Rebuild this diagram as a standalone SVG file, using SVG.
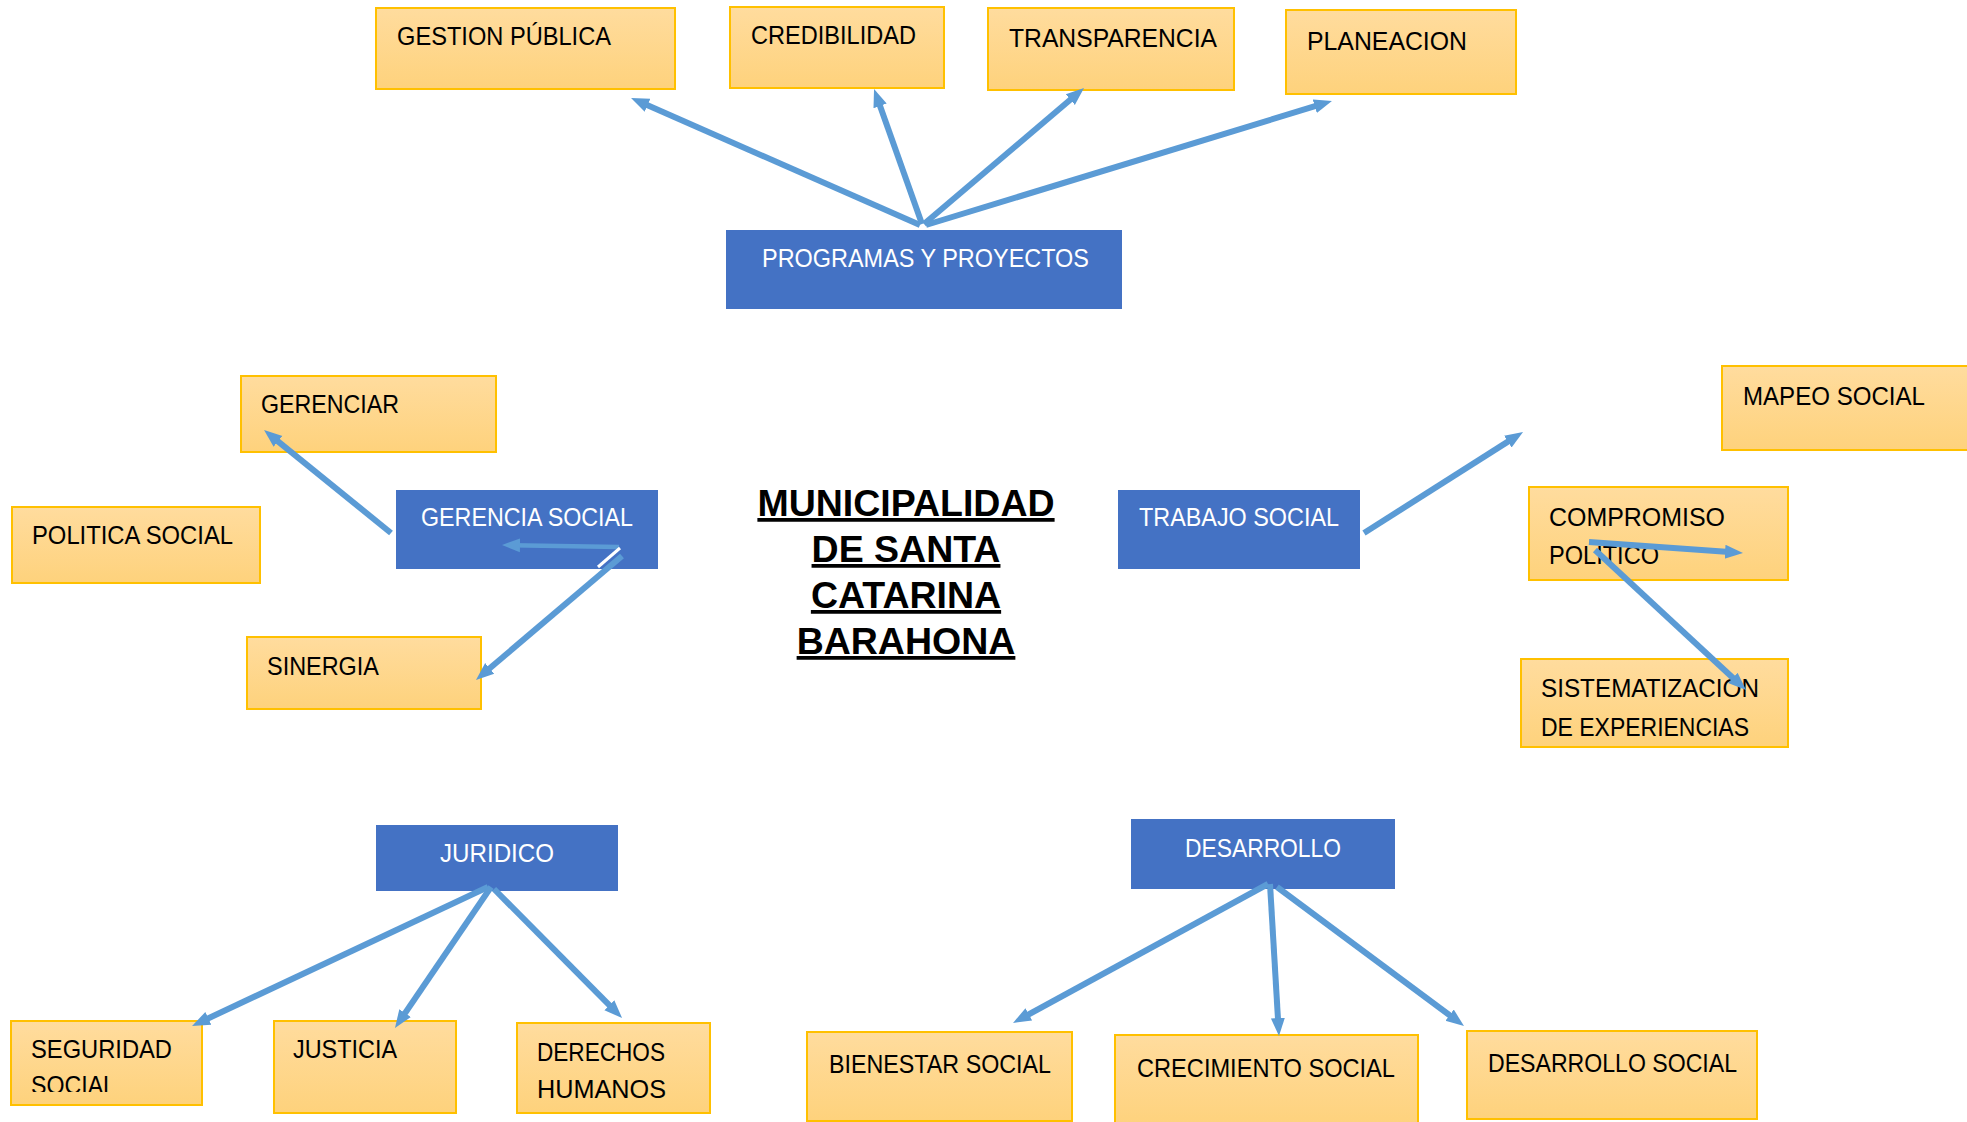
<svg xmlns="http://www.w3.org/2000/svg" width="1967" height="1122" viewBox="0 0 1967 1122">
<defs>
<linearGradient id="og" x1="0" y1="0" x2="0" y2="1">
<stop offset="0" stop-color="#FFDC9E"/>
<stop offset="1" stop-color="#FED27C"/>
</linearGradient>
<marker id="ah" markerUnits="userSpaceOnUse" markerWidth="20" markerHeight="18" refX="8" refY="8" orient="auto">
<path d="M0,1 L18,8 L0,15 Z" fill="#5B9BD5"/>
</marker>
<clipPath id="segclip"><rect x="0" y="1000" width="260" height="92"/></clipPath>
<style>
.o{fill:url(#og);stroke:#FFC000;stroke-width:2}
.b{fill:#4472C4}
.t{font-family:"Liberation Sans",Arial,sans-serif;font-size:25px;fill:#000}
.w{font-family:"Liberation Sans",Arial,sans-serif;font-size:25px;fill:#fff}
.title{font-family:"Liberation Sans",Arial,sans-serif;font-size:37.5px;font-weight:bold;fill:#000;text-decoration:underline}
.c line{stroke:#5B9BD5;stroke-width:6;fill:none;marker-end:url(#ah)}
</style>
</defs>
<rect width="1967" height="1122" fill="#fff"/>

<g id="gestion-publica"><rect class="o" x="376" y="8" width="299" height="81"/><text class="t" x="397" y="45" textLength="214" lengthAdjust="spacingAndGlyphs">GESTION PÚBLICA</text></g>
<g id="credibilidad"><rect class="o" x="730" y="7" width="214" height="81"/><text class="t" x="751" y="44" textLength="165" lengthAdjust="spacingAndGlyphs">CREDIBILIDAD</text></g>
<g id="transparencia"><rect class="o" x="988" y="8" width="246" height="82"/><text class="t" x="1009" y="47" textLength="208" lengthAdjust="spacingAndGlyphs">TRANSPARENCIA</text></g>
<g id="planeacion"><rect class="o" x="1286" y="10" width="230" height="84"/><text class="t" x="1307" y="50" textLength="160" lengthAdjust="spacingAndGlyphs">PLANEACION</text></g>
<g id="programas"><rect class="b" x="726" y="230" width="396" height="79"/><text class="w" x="762" y="267" textLength="327" lengthAdjust="spacingAndGlyphs">PROGRAMAS Y PROYECTOS</text></g>

<g id="gerenciar"><rect class="o" x="241" y="376" width="255" height="76"/><text class="t" x="261" y="413" textLength="138" lengthAdjust="spacingAndGlyphs">GERENCIAR</text></g>
<g id="politica-social"><rect class="o" x="12" y="507" width="248" height="76"/><text class="t" x="32" y="544" textLength="201" lengthAdjust="spacingAndGlyphs">POLITICA SOCIAL</text></g>
<g id="gerencia-social"><rect class="b" x="396" y="490" width="262" height="79"/><text class="w" x="421" y="526" textLength="212" lengthAdjust="spacingAndGlyphs">GERENCIA SOCIAL</text></g>
<g id="sinergia"><rect class="o" x="247" y="637" width="234" height="72"/><text class="t" x="267" y="675" textLength="112" lengthAdjust="spacingAndGlyphs">SINERGIA</text></g>

<g id="titulo">
<text class="title" x="906" y="516" text-anchor="middle">MUNICIPALIDAD</text>
<text class="title" x="906" y="562" text-anchor="middle">DE SANTA</text>
<text class="title" x="906" y="608" text-anchor="middle">CATARINA</text>
<text class="title" x="906" y="654" text-anchor="middle">BARAHONA</text>
</g>

<g id="trabajo-social"><rect class="b" x="1118" y="490" width="242" height="79"/><text class="w" x="1139" y="526" textLength="200" lengthAdjust="spacingAndGlyphs">TRABAJO SOCIAL</text></g>
<g id="mapeo-social"><rect class="o" x="1722" y="366" width="250" height="84"/><text class="t" x="1743" y="405" textLength="182" lengthAdjust="spacingAndGlyphs">MAPEO SOCIAL</text></g>
<g id="compromiso-politico"><rect class="o" x="1529" y="487" width="259" height="93"/><text class="t" x="1549" y="526" textLength="176" lengthAdjust="spacingAndGlyphs">COMPROMISO</text><text class="t" x="1549" y="564" textLength="110" lengthAdjust="spacingAndGlyphs">POLITICO</text></g>
<g id="sistematizacion"><rect class="o" x="1521" y="659" width="267" height="88"/><text class="t" x="1541" y="697" textLength="218" lengthAdjust="spacingAndGlyphs">SISTEMATIZACION</text><text class="t" x="1541" y="736" textLength="208" lengthAdjust="spacingAndGlyphs">DE EXPERIENCIAS</text></g>

<g id="juridico"><rect class="b" x="376" y="825" width="242" height="66"/><text class="w" x="497" y="862" text-anchor="middle" textLength="114" lengthAdjust="spacingAndGlyphs">JURIDICO</text></g>
<g id="seguridad-social"><rect class="o" x="11" y="1021" width="191" height="84"/><text class="t" x="31" y="1058" textLength="141" lengthAdjust="spacingAndGlyphs">SEGURIDAD</text><text class="t" x="31" y="1094" textLength="85" lengthAdjust="spacingAndGlyphs" clip-path="url(#segclip)">SOCIAL</text></g>
<g id="justicia"><rect class="o" x="274" y="1021" width="182" height="92"/><text class="t" x="293" y="1058" textLength="104" lengthAdjust="spacingAndGlyphs">JUSTICIA</text></g>
<g id="derechos-humanos"><rect class="o" x="517" y="1023" width="193" height="90"/><text class="t" x="537" y="1061" textLength="128" lengthAdjust="spacingAndGlyphs">DERECHOS</text><text class="t" x="537" y="1098" textLength="129" lengthAdjust="spacingAndGlyphs">HUMANOS</text></g>

<g id="desarrollo"><rect class="b" x="1131" y="819" width="264" height="70"/><text class="w" x="1263" y="857" text-anchor="middle" textLength="156" lengthAdjust="spacingAndGlyphs">DESARROLLO</text></g>
<g id="bienestar-social"><rect class="o" x="807" y="1032" width="265" height="89"/><text class="t" x="829" y="1073" textLength="222" lengthAdjust="spacingAndGlyphs">BIENESTAR SOCIAL</text></g>
<g id="crecimiento-social"><rect class="o" x="1115" y="1035" width="303" height="92"/><text class="t" x="1137" y="1077" textLength="258" lengthAdjust="spacingAndGlyphs">CRECIMIENTO SOCIAL</text></g>
<g id="desarrollo-social"><rect class="o" x="1467" y="1031" width="290" height="88"/><text class="t" x="1488" y="1072" textLength="249" lengthAdjust="spacingAndGlyphs">DESARROLLO SOCIAL</text></g>

<g id="connectors" class="c">
<line x1="920" y1="225" x2="640.2" y2="102"/>
<line x1="922" y1="224" x2="877.4" y2="98.4"/>
<line x1="924" y1="224" x2="1076.4" y2="94.5"/>
<line x1="926" y1="225" x2="1322.4" y2="103.9"/>
<line x1="391" y1="533" x2="271.8" y2="436.3"/>
<line x1="619" y1="547" x2="512" y2="545.2" style="stroke-width:4.5"/>
<line x1="622" y1="556" x2="483.6" y2="673.5"/>
<line x1="620" y1="548" x2="598" y2="567" style="stroke:#fff;stroke-width:3;marker-end:none"/>
<line x1="1364" y1="533" x2="1514.6" y2="437.4"/>
<line x1="1589" y1="542" x2="1733" y2="552.3"/>
<line x1="1595" y1="550" x2="1738.7" y2="683.2"/>
<line x1="488" y1="887" x2="201.1" y2="1021.7"/>
<line x1="491" y1="887" x2="400.6" y2="1019.7"/>
<line x1="494" y1="889" x2="615" y2="1010.9"/>
<line x1="1268" y1="884" x2="1021.8" y2="1018.2"/>
<line x1="1270" y1="884" x2="1278.4" y2="1026"/>
<line x1="1277" y1="887" x2="1456" y2="1020"/>
</g>
</svg>
